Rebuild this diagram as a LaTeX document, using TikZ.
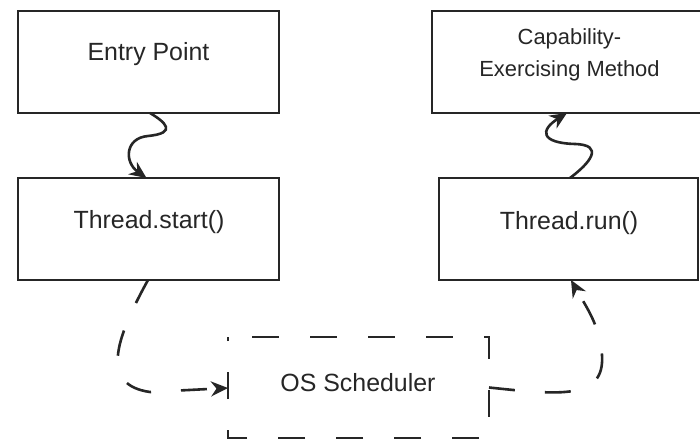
\documentclass[tikz,border=0pt]{standalone}
\usepackage{fontspec}
\setmainfont{Liberation Sans}
\usetikzlibrary{arrows.meta,calc}
\begin{document}
\begin{tikzpicture}[x=1bp,y=-1bp,
  box/.style={draw=black!85, line width=2.6bp, inner sep=0pt, outer sep=0pt, minimum height=102bp},
  dbox/.style={draw=none, inner sep=0pt, outer sep=0pt, minimum height=101bp},
  big/.style={text=black!85, inner sep=0pt, font=\fontsize{25}{30}\selectfont},
  small/.style={text=black!85, inner sep=0pt, align=center, font=\fontsize{22}{31.5}\selectfont},
  tip/.style={-{Stealth[length=17bp,width=15bp,inset=5.5bp]}},
  conn/.style={draw=black!85, line width=2.6bp, tip},
  dconn/.style={conn, dash pattern=on 26bp off 30bp},
]
\clip (0,0) rectangle (700,443);
\fill[white] (0,0) rectangle (700,443);

\node[box, minimum width=261bp] (ep) at (148.5,62) {};
\node[big] (eptext) at (148.5,54) {Entry Point};

\node[box, minimum width=261bp] (ts) at (148.5,229) {};
\node[big] (tstext) at (149,222) {Thread.start()};

\node[box, minimum width=275bp] (cap) at (569.5,62) {};
\node[small] (captext) at (569.5,55) {Capability-\\Exercising Method};

\node[box, minimum width=259bp] (tr) at (568.5,229) {};
\node[big] (trtext) at (569,223) {Thread.run()};

\node[dbox, minimum width=261bp] (os) at (358.5,387.5) {};
\draw[black!85, line width=2.6bp, dash pattern=on 27bp off 31bp, dash phase=34bp]
  (os.north west) -- (os.north east) -- (os.south east) -- (os.south west) -- cycle;
\node[big] (ostext) at (358,383) {OS Scheduler};

\coordinate (w1) at (148,136);
\coordinate (w2) at (575,144);
\coordinate (w3) at (150,392);
\coordinate (w4) at (602,355);

\draw[conn] ($(ep.south)+(1.5,0)$) .. controls (165,122) and (178,133) .. (w1)
  .. controls (125,138) and (124,162) .. ($(ts.north)+(-2,0)$);

\draw[conn] ($(tr.north)+(1.5,0)$) .. controls (590,163) and (605,145) .. (w2)
  .. controls (540,143) and (540,130) .. ($(cap.south)+(-2.5,0)$);

\draw[dconn] ($(ts.south)+(-0.5,0)$) .. controls (115,340) and (100,385) .. (w3)
  -- ($(os.west)+(0,0.5)$);

\draw[dconn] (os.east) .. controls (560,395) and (605,400) .. (w4)
  .. controls (600,325) and (585,305) .. ($(tr.south)+(2.5,0)$);
\end{tikzpicture}
\end{document}
